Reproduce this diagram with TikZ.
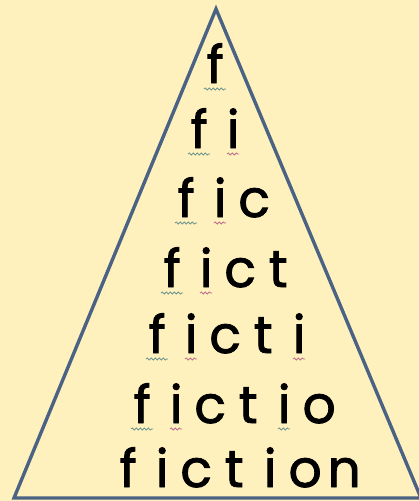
\documentclass[tikz,border=0pt]{standalone}
\usepackage{fontspec}
\newfontfamily\wordfam{Poppins}[FakeBold=1.6]
\usetikzlibrary{decorations.pathmorphing}
\definecolor{bg}{RGB}{255,241,190}
\definecolor{edgecol}{RGB}{74,98,132}
\definecolor{sqf}{RGB}{110,150,140}
\definecolor{sqi}{RGB}{190,110,140}
\newcommand{\Lf}{\makebox[36pt][c]{f}}
\newcommand{\Li}{\makebox[32pt][c]{i}}
\newcommand{\Lc}{\makebox[36pt][c]{c}}
\newcommand{\Lt}{\makebox[40pt][c]{t}}
\newcommand{\Lo}{\makebox[38pt][c]{o}}
\newcommand{\Ln}{\makebox[40pt][c]{n}}
\newcommand{\wordfont}{\wordfam\fontsize{52}{60}\selectfont}
\tikzset{
  word/.style={anchor=base west, inner sep=0pt, text depth=0pt, font=\wordfont, text=black},
  tri/.style={draw=edgecol, line width=3.4pt, line join=miter},
  squig/.style={line width=0.8pt, decorate, decoration={snake, segment length=4pt, amplitude=1.1pt}},
  sqF/.style={squig, draw=sqf},
  sqI/.style={squig, draw=sqi}
}
\begin{document}
\begin{tikzpicture}[x=1pt,y=-1pt]
\fill[bg] (0,0) rectangle (419,501);
\useasboundingbox (0,0) rectangle (419,501);
\clip (0,0) rectangle (419,501);
\draw[tri] (216,9) -- (421,498) -- (14,498) -- cycle;

\node[word] (w1) at (197,83) {\Lf};
\node[word] (w2) at (181,148) {\Lf\Li};
\node[word] (w3) at (168,217) {\Lf\Li\Lc};
\node[word] (w4) at (154,287) {\Lf\Li\Lc\Lt};
\node[word] (w5) at (139,353) {\Lf\Li\Lc\Lt\Li};
\node[word] (w6) at (124,423) {\Lf\Li\Lc\Lt\Li\Lo};
\node[word] (w7) at (110,487) {\Lf\Li\Lc\Lt\Li\Lo\Ln};

\draw[sqF] (204,89) -- (226,89);
\draw[sqF] (188,154) -- (210,154);
\draw[sqI] (227,154) -- (239,154);
\draw[sqF] (175,223) -- (197,223);
\draw[sqI] (214,223) -- (226,223);
\draw[sqF] (161,293) -- (183,293);
\draw[sqI] (200,293) -- (212,293);
\draw[sqF] (146,359) -- (168,359);
\draw[sqI] (185,359) -- (197,359);
\draw[sqI] (293,359) -- (305,359);
\draw[sqF] (131,429) -- (153,429);
\draw[sqI] (170,429) -- (182,429);
\draw[sqF] (278,429) -- (290,429);
\end{tikzpicture}
\end{document}
